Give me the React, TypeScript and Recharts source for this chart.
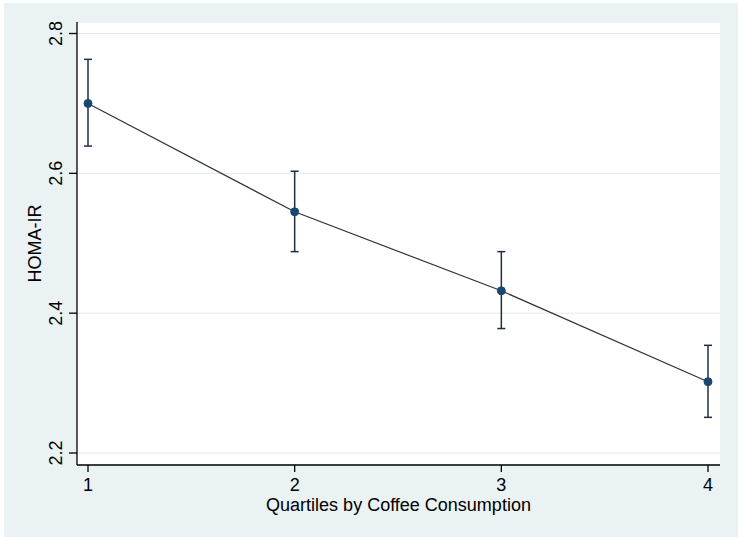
import { ComposedChart, Line, ErrorBar, XAxis, YAxis, CartesianGrid } from 'recharts';

const quartiles = [1, 2, 3, 4];
const homaMean = [2.7, 2.545, 2.432, 2.302];
const ciLower = [2.639, 2.488, 2.378, 2.251];
const ciUpper = [2.763, 2.603, 2.488, 2.354];
const yTicks = [2.2, 2.4, 2.6, 2.8];

const FONT = '"Liberation Sans", Arial, sans-serif';
const NAVY = '#1a476f';

const data = quartiles.map((q, i) => ({
  q,
  mean: homaMean[i],
  ci: [homaMean[i] - ciLower[i], ciUpper[i] - homaMean[i]],
}));

function YTick(props: any) {
  const { y, payload } = props;
  return (
    <text
      transform={`translate(62,${y}) rotate(-90)`}
      textAnchor="middle"
      fontSize={18}
      fontFamily={FONT}
      fill="#000"
    >
      {Number(payload.value).toFixed(1)}
    </text>
  );
}

function XTitle(props: any) {
  const vb = props.viewBox;
  return (
    <text
      x={vb.x + vb.width / 2}
      y={vb.y + 46}
      textAnchor="middle"
      fontSize={18}
      fontFamily={FONT}
      fill="#000"
    >
      Quartiles by Coffee Consumption
    </text>
  );
}

function YTitle(props: any) {
  const vb = props.viewBox;
  return (
    <text
      transform={`translate(41,${vb.y + vb.height / 2}) rotate(-90)`}
      textAnchor="middle"
      fontSize={18}
      fontFamily={FONT}
      fill="#000"
    >
      HOMA-IR
    </text>
  );
}

export default function App() {
  return (
    <div style={{ position: 'relative', width: 742, height: 543, background: '#fff' }}>
      <style>{`body{margin:0}`}</style>
      <div
        style={{
          position: 'absolute',
          left: 4,
          top: 3,
          width: 734,
          height: 534,
          background: '#eaf2f3',
        }}
      />
      <div style={{ position: 'absolute', left: 0, top: 0 }}>
        <ComposedChart
          width={742}
          height={543}
          data={data}
          margin={{ top: 22, right: 22, bottom: 0, left: 0 }}
        >
          <CartesianGrid vertical={false} fill="#fff" stroke="#e4eaec" strokeWidth={1} />
          <XAxis
            dataKey="q"
            type="number"
            domain={[1, 4]}
            ticks={quartiles}
            padding={{ left: 11, right: 12 }}
            height={78}
            tickSize={7}
            tickMargin={6}
            axisLine={{ stroke: '#000', strokeWidth: 1.3 }}
            tickLine={{ stroke: '#000', strokeWidth: 1.3 }}
            tick={{ fill: '#000', fontSize: 18, fontFamily: FONT }}
            label={<XTitle />}
          />
          <YAxis
            type="number"
            domain={[2.2, 2.8]}
            ticks={yTicks}
            padding={{ top: 11.5, bottom: 12 }}
            width={77}
            tickSize={8}
            axisLine={{ stroke: '#000', strokeWidth: 1.3 }}
            tickLine={{ stroke: '#000', strokeWidth: 1.3 }}
            tick={<YTick />}
            label={<YTitle />}
          />
          <Line
            dataKey="mean"
            stroke="#2b3440"
            strokeWidth={1.2}
            dot={{ r: 4, fill: NAVY, stroke: NAVY, strokeWidth: 1 }}
            isAnimationActive={false}
          >
            <ErrorBar dataKey="ci" width={4} stroke="#1c2f45" strokeWidth={1.5} direction="y" />
          </Line>
        </ComposedChart>
      </div>
    </div>
  );
}
